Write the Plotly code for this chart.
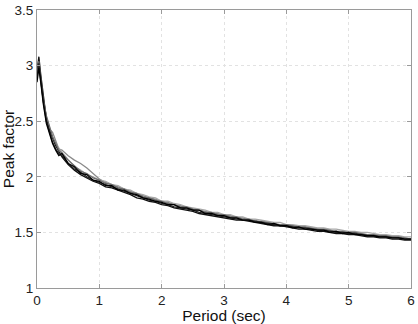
import plotly.graph_objects as go

period = [0, 0.03, 0.06, 0.1, 0.15, 0.2, 0.25, 0.3, 0.35,
          0.4, 0.5, 0.6, 0.7, 0.8, 0.9, 1.0, 1.1, 1.2, 1.3,
          1.4, 1.5, 1.6, 1.7, 1.8, 1.9, 2.0, 2.1, 2.2, 2.3,
          2.4, 2.5, 2.6, 2.7, 2.8, 2.9, 3.0, 3.1, 3.2, 3.3,
          3.4, 3.5, 3.6, 3.7, 3.8, 3.9, 4.0, 4.1, 4.2, 4.3,
          4.4, 4.5, 4.6, 4.7, 4.8, 4.9, 5.0, 5.1, 5.2, 5.3,
          5.4, 5.5, 5.6, 5.7, 5.8, 5.9, 6.0]

pf_1 = [2.95, 3.08, 2.92, 2.72, 2.52, 2.42, 2.34, 2.28, 2.23,
        2.18, 2.11, 2.06, 2.02, 1.99, 1.96, 1.94, 1.91, 1.90, 1.88,
        1.86, 1.84, 1.81, 1.80, 1.78, 1.77, 1.75, 1.74, 1.72, 1.71,
        1.70, 1.69, 1.67, 1.66, 1.65, 1.64, 1.63, 1.62, 1.61, 1.61,
        1.60, 1.59, 1.58, 1.57, 1.56, 1.56, 1.55, 1.54, 1.53, 1.53,
        1.52, 1.51, 1.51, 1.50, 1.49, 1.49, 1.48, 1.48, 1.47, 1.46,
        1.46, 1.45, 1.45, 1.44, 1.44, 1.43, 1.43]
pf_2 = [2.90, 3.02, 2.88, 2.68, 2.50, 2.40, 2.31, 2.25, 2.21,
        2.19, 2.12, 2.07, 2.04, 2.00, 1.97, 1.95, 1.93, 1.91, 1.89,
        1.87, 1.85, 1.83, 1.81, 1.79, 1.78, 1.76, 1.75, 1.73, 1.72,
        1.71, 1.70, 1.68, 1.67, 1.66, 1.65, 1.64, 1.63, 1.62, 1.61,
        1.61, 1.60, 1.59, 1.58, 1.57, 1.56, 1.56, 1.55, 1.54, 1.54,
        1.53, 1.52, 1.52, 1.51, 1.50, 1.50, 1.49, 1.49, 1.48, 1.47,
        1.47, 1.46, 1.46, 1.45, 1.45, 1.44, 1.44]
pf_3 = [2.85, 2.98, 2.85, 2.66, 2.48, 2.38, 2.30, 2.24, 2.19,
        2.21, 2.12, 2.09, 2.03, 2.02, 1.97, 1.96, 1.92, 1.92, 1.88,
        1.88, 1.85, 1.84, 1.81, 1.80, 1.78, 1.77, 1.75, 1.75, 1.72,
        1.72, 1.70, 1.70, 1.67, 1.67, 1.65, 1.65, 1.63, 1.63, 1.61,
        1.61, 1.59, 1.59, 1.57, 1.58, 1.56, 1.56, 1.54, 1.55, 1.53,
        1.53, 1.52, 1.52, 1.50, 1.51, 1.49, 1.50, 1.48, 1.48, 1.47,
        1.47, 1.46, 1.46, 1.45, 1.45, 1.44, 1.44]
pf_4 = [2.92, 3.04, 2.90, 2.70, 2.55, 2.45, 2.36, 2.30, 2.24,
        2.21, 2.15, 2.10, 2.05, 2.03, 1.99, 1.97, 1.94, 1.93, 1.90,
        1.89, 1.86, 1.85, 1.82, 1.81, 1.79, 1.78, 1.76, 1.75, 1.73,
        1.73, 1.71, 1.70, 1.68, 1.68, 1.66, 1.66, 1.64, 1.64, 1.62,
        1.62, 1.60, 1.60, 1.59, 1.58, 1.57, 1.57, 1.56, 1.55, 1.55,
        1.54, 1.53, 1.53, 1.52, 1.51, 1.51, 1.50, 1.50, 1.49, 1.48,
        1.48, 1.47, 1.47, 1.46, 1.46, 1.45, 1.44]
pf_5 = [2.88, 3.00, 2.86, 2.69, 2.53, 2.43, 2.40, 2.32, 2.25,
        2.24, 2.19, 2.15, 2.12, 2.08, 2.03, 1.98, 1.95, 1.93, 1.91,
        1.89, 1.87, 1.85, 1.83, 1.81, 1.80, 1.78, 1.77, 1.75, 1.74,
        1.72, 1.71, 1.70, 1.69, 1.67, 1.67, 1.65, 1.65, 1.63, 1.63,
        1.61, 1.61, 1.59, 1.59, 1.57, 1.57, 1.56, 1.56, 1.54, 1.54,
        1.53, 1.53, 1.51, 1.52, 1.50, 1.50, 1.49, 1.49, 1.48, 1.48,
        1.47, 1.47, 1.46, 1.46, 1.45, 1.45, 1.44]
pf_6 = [2.90, 3.03, 2.87, 2.70, 2.54, 2.44, 2.35, 2.29, 2.26,
        2.22, 2.15, 2.09, 2.06, 2.02, 2.00, 1.97, 1.96, 1.93, 1.92,
        1.89, 1.88, 1.85, 1.84, 1.82, 1.81, 1.78, 1.78, 1.76, 1.75,
        1.73, 1.72, 1.71, 1.70, 1.68, 1.68, 1.66, 1.66, 1.64, 1.64,
        1.62, 1.62, 1.61, 1.60, 1.59, 1.59, 1.57, 1.57, 1.56, 1.56,
        1.55, 1.54, 1.54, 1.53, 1.53, 1.52, 1.51, 1.51, 1.50, 1.50,
        1.49, 1.48, 1.48, 1.47, 1.47, 1.46, 1.46]

series = [pf_5, pf_6, pf_1, pf_4, pf_2, pf_3]
colors = ["#8a8a8a", "#a8a8a8", "#111111", "#6a6a6a", "#222222", "#000000"]

x_ticks = [0, 1, 2, 3, 4, 5, 6]
y_ticks = [1, 1.5, 2, 2.5, 3, 3.5]
y_tick_text = ["1", "1.5", "2", "2.5", "3", "3.5"]

fig = go.Figure()
for ys, c in zip(series, colors):
    fig.add_trace(go.Scatter(x=period, y=ys, mode="lines",
                             line=dict(color=c, width=1.3),
                             showlegend=False))

axis_common = dict(showline=True, linecolor="#9a9a9a", linewidth=1,
                   mirror="ticks", ticks="inside", ticklen=4,
                   tickcolor="#9a9a9a", showgrid=True,
                   gridcolor="#e2e2e2", griddash="dot", gridwidth=1,
                   zeroline=False, ticklabeloverflow="allow",
                   tickfont=dict(family="Liberation Sans, Arial", size=13.5, color="#222222"))

fig.update_xaxes(range=[0, 6], tickvals=x_ticks, ticktext=[str(v) for v in x_ticks],
                 title=dict(text="Period (sec)", standoff=2,
                            font=dict(family="Liberation Sans, Arial", size=15.5, color="#111111")),
                 **axis_common)
fig.update_yaxes(range=[1, 3.5], tickvals=y_ticks, ticktext=y_tick_text,
                 title=dict(text="Peak factor", standoff=0,
                            font=dict(family="Liberation Sans, Arial", size=15.5, color="#111111")),
                 **axis_common)

fig.update_layout(width=418, height=324,
                  margin=dict(l=37, r=3, t=8, b=30),
                  paper_bgcolor="white", plot_bgcolor="white")

fig.write_html("out.html")
